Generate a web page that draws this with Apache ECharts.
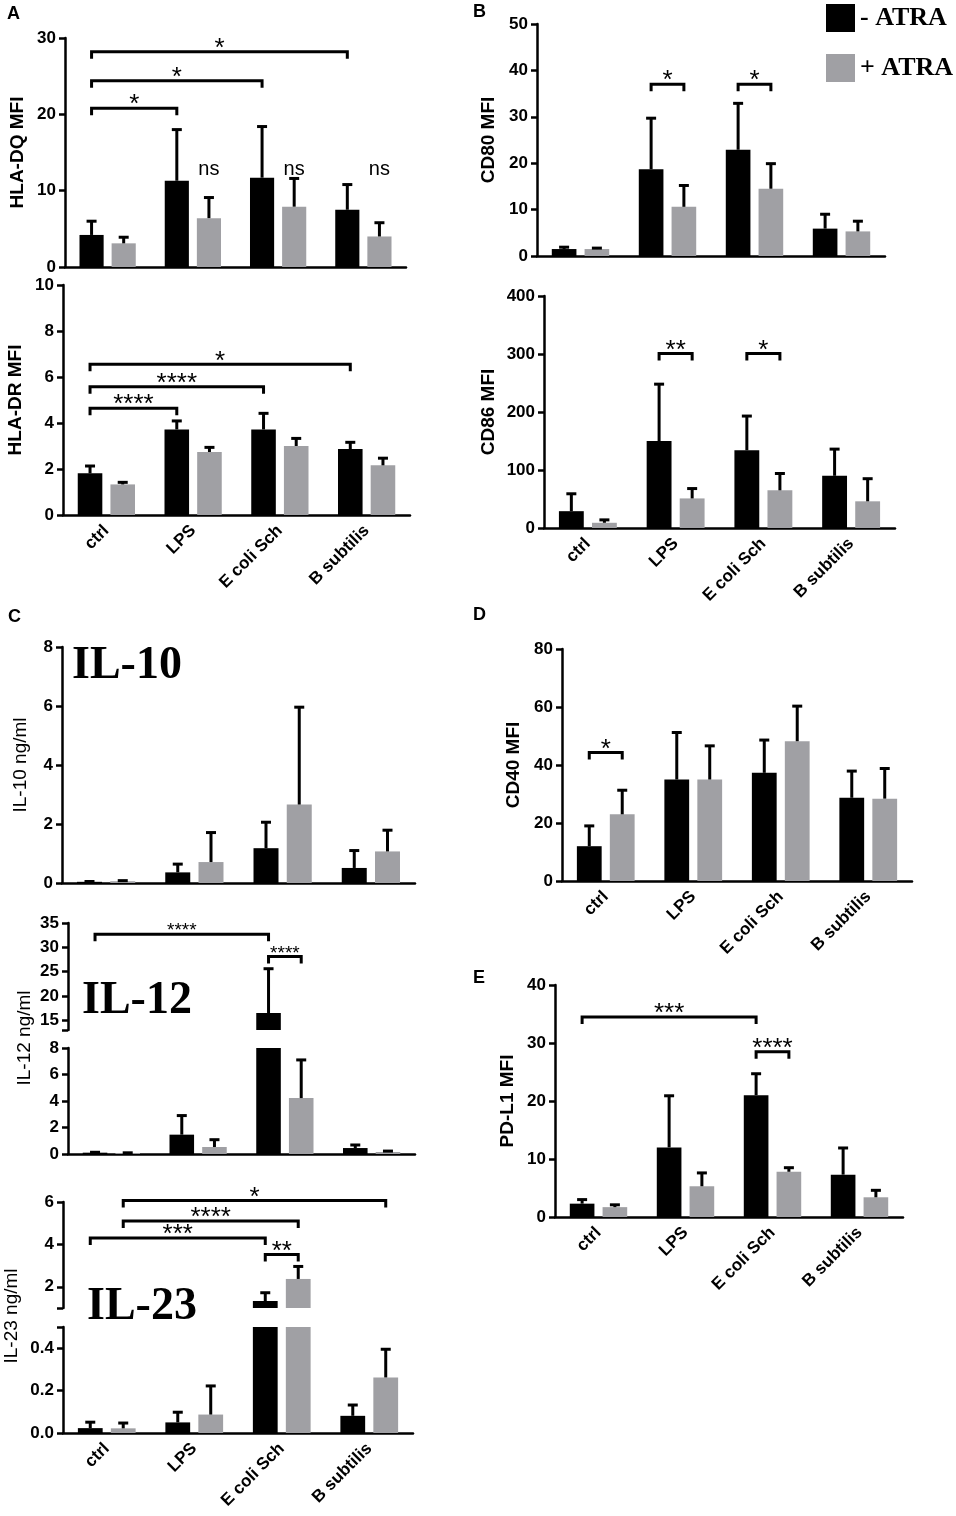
<!DOCTYPE html>
<html>
<head>
<meta charset="UTF-8">
<script src="https://cdn.jsdelivr.net/npm/echarts@6/dist/echarts.min.js"></script>
<style>
  html, body { margin: 0; background: #fff; }
  #main { width: 956px; height: 1516px; }
</style>
</head>
<body>
<div id="main"></div>
<script>
var categories = ['ctrl', 'LPS', 'E coli Sch', 'B subtilis'];
var groupNames = ['- ATRA', '+ ATRA'];

// HLA-DQ MFI
var dqMinus = [4.2, 11.3, 11.7, 7.5];
var dqMinusSd = [1.8, 6.7, 6.7, 3.3];
var dqPlus = [3.1, 6.4, 7.9, 4.0];
var dqPlusSd = [0.8, 2.7, 3.7, 1.8];
var dqBrackets = [[0, 20.8, 1, 0, 0], [0, 24.4, 2, 0, 0], [0, 28.2, 3, 0, 0]];
var dqStars = ['*', '*', '*'];
var dqNotes = [[1, 12.8, 1], [2, 12.8, 1], [3, 12.8, 1]];
var dqNoteText = ['ns', 'ns', 'ns'];

// HLA-DR MFI
var drMinus = [1.81, 3.72, 3.72, 2.87];
var drMinusSd = [0.32, 0.37, 0.70, 0.29];
var drPlus = [1.33, 2.74, 3.0, 2.16];
var drPlusSd = [0.09, 0.20, 0.33, 0.31];
var drBrackets = [[0, 4.64, 1, 0, 0], [0, 5.58, 2, 0, 0], [0, 6.55, 3, 0, 0]];
var drStars = ['****', '****', '*'];

// CD80 MFI
var cd80Minus = [1.5, 18.7, 22.9, 5.9];
var cd80MinusSd = [0.4, 11.0, 10.0, 3.1];
var cd80Plus = [1.5, 10.6, 14.5, 5.3];
var cd80PlusSd = [0.2, 4.6, 5.4, 2.2];
var cd80Brackets = [[1, 37, 1, 0, 1], [2, 37, 2, 0, 1]];
var cd80Stars = ['*', '*'];

// CD86 MFI
var cd86Minus = [29, 150, 134, 90];
var cd86MinusSd = [30, 98, 59, 46];
var cd86Plus = [9, 51, 65, 46];
var cd86PlusSd = [5, 17, 29, 39];
var cd86Brackets = [[1, 301, 1, 0, 1], [2, 301, 2, 0, 1]];
var cd86Stars = ['**', '*'];

// IL-10 ng/ml
var il10Minus = [0.04, 0.36, 1.18, 0.51];
var il10MinusSd = [0.01, 0.28, 0.88, 0.59];
var il10Plus = [0.06, 0.71, 2.66, 1.07];
var il10PlusSd = [0.02, 1.0, 3.3, 0.72];

// IL-12 ng/ml (broken axis)
var il12Minus = [0.1, 1.46, 16.5, 0.45];
var il12MinusSd = [0.03, 1.44, 9.1, 0.23];
var il12Plus = [0.07, 0.53, 4.22, 0.15];
var il12PlusSd = [0.02, 0.55, 2.88, 0.07];
var il12Brackets = [[0, 32.7, 2, 0, 0], [2, 28.1, 2, 0, 1]];
var il12Stars = ['****', '****'];

// IL-23 ng/ml (broken axis)
var il23Minus = [0.023, 0.05, 1.33, 0.081];
var il23MinusSd = [0.028, 0.048, 0.39, 0.051];
var il23Plus = [0.022, 0.087, 2.37, 0.262];
var il23PlusSd = [0.025, 0.135, 0.59, 0.133];
var il23Brackets = [[0, 4.3, 2, 0, 0], [0, 5.1, 2, 1, 1], [0, 6.07, 3, 1, 1], [2, 3.52, 2, 0, 1]];
var il23Stars = ['***', '****', '*', '**'];

// CD40 MFI
var cd40Minus = [12.0, 35.0, 37.3, 28.7];
var cd40MinusSd = [7.0, 16.2, 11.3, 9.2];
var cd40Plus = [23.0, 35.0, 48.2, 28.4];
var cd40PlusSd = [8.3, 11.6, 12.1, 10.4];
var cd40Brackets = [[0, 44.3, 0, 0, 1]];
var cd40Stars = ['*'];

// PD-L1 MFI
var pdMinus = [2.3, 12.0, 21.0, 7.3];
var pdMinusSd = [0.7, 8.9, 3.7, 4.6];
var pdPlus = [1.7, 5.3, 7.8, 3.4];
var pdPlusSd = [0.4, 2.3, 0.7, 1.2];
var pdBrackets = [[0, 34.5, 2, 0, 0], [2, 28.5, 2, 0, 1]];
var pdStars = ['***', '****'];

var SANS = '"Liberation Sans", Arial, sans-serif';
var SERIF = '"Liberation Serif", "Times New Roman", serif';
var CAT_GAP = 0.34, BAR_GAP = 0.33;
var colors = ['#000000', '#a0a0a4'];

function barOffset(band, side) {
    var w = band * (1 - CAT_GAP) / (2 + BAR_GAP);
    return (side === 0 ? -1 : 1) * w * (1 + BAR_GAP) / 2;
}

function errorRows(means, sds, side) {
    return means.map(function (m, i) { return [i, m, m + sds[i], side]; });
}

var panels = [
    { grid: { left: 65, top: 38, width: 341, height: 229 }, minus: dqMinus, minusSd: dqMinusSd, plus: dqPlus, plusSd: dqPlusSd,
      y: { min: 0, max: 30, interval: 10 }, name: 'HLA-DQ MFI', nameGap: 38, xAxis: 'ticks',
      brackets: dqBrackets, stars: dqStars, starSize: 26, notes: dqNotes, noteText: dqNoteText },
    { grid: { left: 63, top: 285, width: 347, height: 230 }, minus: drMinus, minusSd: drMinusSd, plus: drPlus, plusSd: drPlusSd,
      y: { min: 0, max: 10, interval: 2 }, name: 'HLA-DR MFI', nameGap: 38, xAxis: 'labels',
      brackets: drBrackets, stars: drStars, starSize: 26 },
    { grid: { left: 537, top: 24, width: 348, height: 232 }, minus: cd80Minus, minusSd: cd80MinusSd, plus: cd80Plus, plusSd: cd80PlusSd,
      y: { min: 0, max: 50, interval: 10 }, name: 'CD80 MFI', nameGap: 39, xAxis: 'ticks',
      brackets: cd80Brackets, stars: cd80Stars, starSize: 26 },
    { grid: { left: 544, top: 296, width: 351, height: 232 }, minus: cd86Minus, minusSd: cd86MinusSd, plus: cd86Plus, plusSd: cd86PlusSd,
      y: { min: 0, max: 400, interval: 100 }, name: 'CD86 MFI', nameGap: 46, xAxis: 'labels',
      brackets: cd86Brackets, stars: cd86Stars, starSize: 26 },
    { grid: { left: 62, top: 647, width: 353, height: 236 }, minus: il10Minus, minusSd: il10MinusSd, plus: il10Plus, plusSd: il10PlusSd,
      y: { min: 0, max: 8, interval: 2 }, name: 'IL-10 ng/ml', nameGap: 32, nameWeight: 'normal', xAxis: 'ticks' },
    { grid: { left: 68, top: 923, width: 347, height: 107 }, minus: il12Minus, minusSd: il12MinusSd, plus: il12Plus, plusSd: il12PlusSd,
      y: { min: 13, max: 35, labels: [15, 20, 25, 30, 35], ticks: [13, 15, 20, 25, 30, 35] }, xAxis: 'none',
      brackets: il12Brackets, stars: il12Stars, starSize: 19 },
    { grid: { left: 68, top: 1048, width: 347, height: 106 }, minus: il12Minus, minusSd: il12MinusSd, plus: il12Plus, plusSd: il12PlusSd,
      y: { min: 0, max: 8, interval: 2 }, xAxis: 'ticks' },
    { grid: { left: 63, top: 1202, width: 350, height: 106 }, minus: il23Minus, minusSd: il23MinusSd, plus: il23Plus, plusSd: il23PlusSd,
      y: { min: 1, max: 6, labels: [2, 4, 6], ticks: [1, 2, 4, 6] }, xAxis: 'none',
      brackets: il23Brackets, stars: il23Stars, starSize: 26 },
    { grid: { left: 63, top: 1327, width: 350, height: 106 }, minus: il23Minus, minusSd: il23MinusSd, plus: il23Plus, plusSd: il23PlusSd,
      y: { min: 0, max: 0.5, labels: [0, 0.2, 0.4], ticks: [0, 0.2, 0.4, 0.5], fixed: 1 }, xAxis: 'labels' },
    { grid: { left: 562, top: 649, width: 350, height: 232 }, minus: cd40Minus, minusSd: cd40MinusSd, plus: cd40Plus, plusSd: cd40PlusSd,
      y: { min: 0, max: 80, interval: 20 }, name: 'CD40 MFI', nameGap: 39, xAxis: 'labels',
      brackets: cd40Brackets, stars: cd40Stars, starSize: 26 },
    { grid: { left: 555, top: 985, width: 348, height: 232 }, minus: pdMinus, minusSd: pdMinusSd, plus: pdPlus, plusSd: pdPlusSd,
      y: { min: 0, max: 40, interval: 10 }, name: 'PD-L1 MFI', nameGap: 38, xAxis: 'labels',
      brackets: pdBrackets, stars: pdStars, starSize: 26 }
];

var option = {
    backgroundColor: '#fff',
    animation: false,
    legend: {
        left: 826, top: 4, orient: 'vertical', padding: 0,
        itemWidth: 29, itemHeight: 28, itemGap: 22, icon: 'rect', selectedMode: false,
        data: groupNames,
        textStyle: { fontFamily: SERIF, fontWeight: 'bold', fontSize: 26, color: '#000' }
    },
    grid: [], xAxis: [], yAxis: [], series: [],
    graphic: []
};

panels.forEach(function (p, g) {
    option.grid.push(p.grid);
    option.xAxis.push({
        type: 'category', gridIndex: g, data: categories, boundaryGap: true,
        show: p.xAxis !== 'none',
        axisLine: { lineStyle: { color: '#000', width: 2.5 } },
        axisTick: { alignWithLabel: true, interval: 0, length: 6, lineStyle: { color: '#000', width: 2.5 } },
        axisLabel: {
            show: p.xAxis === 'labels', interval: 0, rotate: 45, margin: 13,
            fontFamily: SANS, fontWeight: 'bold', fontSize: 17, color: '#000'
        },
        splitLine: { show: false }
    });
    var y = {
        type: 'value', gridIndex: g, min: p.y.min, max: p.y.max,
        axisLine: { show: true, lineStyle: { color: '#000', width: 2.5 } },
        axisTick: { show: true, length: 6, lineStyle: { color: '#000', width: 2.5 } },
        axisLabel: {
            margin: 9, fontFamily: SANS, fontWeight: 'bold', fontSize: 17, color: '#000',
            formatter: p.y.fixed ? function (v) { return v.toFixed(p.y.fixed); } : null
        },
        splitLine: { show: false }
    };
    if (p.y.interval) y.interval = p.y.interval;
    if (p.y.labels) {
        y.axisLabel.customValues = p.y.labels;
        y.axisTick.customValues = p.y.ticks;
    }
    if (p.name) {
        y.name = p.name;
        y.nameLocation = 'middle';
        y.nameGap = p.nameGap;
        y.nameTextStyle = { fontFamily: SANS, fontWeight: p.nameWeight || 'bold', fontSize: 19, color: '#000' };
    }
    option.yAxis.push(y);

    [p.minus, p.plus].forEach(function (vals, side) {
        option.series.push({
            type: 'bar', name: groupNames[side], xAxisIndex: g, yAxisIndex: g,
            data: vals, clip: true, barCategoryGap: '34%', barGap: '33%',
            itemStyle: { color: colors[side] }
        });
    });

    option.series.push({
        type: 'custom', xAxisIndex: g, yAxisIndex: g, clip: true, z: 5,
        encode: { x: 0, y: [1, 2] },
        data: errorRows(p.minus, p.minusSd, 0).concat(errorRows(p.plus, p.plusSd, 1)),
        renderItem: function (params, api) {
            var band = api.size([1, 0])[0];
            var off = barOffset(band, api.value(3));
            var p0 = api.coord([api.value(0), api.value(1)]);
            var p1 = api.coord([api.value(0), api.value(2)]);
            var x = p0[0] + off;
            return {
                type: 'group', children: [
                    { type: 'line', shape: { x1: x, y1: p0[1], x2: x, y2: p1[1] }, style: { stroke: '#000', lineWidth: 3 } },
                    { type: 'line', shape: { x1: x - 5, y1: p1[1], x2: x + 5, y2: p1[1] }, style: { stroke: '#000', lineWidth: 3 } }
                ]
            };
        }
    });

    if (p.brackets) {
        option.series.push({
            type: 'custom', xAxisIndex: g, yAxisIndex: g, clip: false, z: 6,
            encode: { x: [0, 2], y: 1 },
            data: p.brackets,
            renderItem: function (params, api) {
                var band = api.size([1, 0])[0];
                var a = api.coord([api.value(0), api.value(1)]);
                var b = api.coord([api.value(2), api.value(1)]);
                var xa = a[0] + barOffset(band, api.value(3));
                var xb = b[0] + barOffset(band, api.value(4));
                var yy = a[1];
                return {
                    type: 'group', children: [
                        { type: 'polyline', shape: { points: [[xa, yy + 7], [xa, yy], [xb, yy], [xb, yy + 7]] },
                          style: { stroke: '#000', lineWidth: 3, fill: 'none' } },
                        { type: 'text', style: { text: p.stars[params.dataIndex], x: (xa + xb) / 2, y: yy - 3,
                          align: 'center', verticalAlign: 'middle', fontFamily: SANS, fontSize: p.starSize, fill: '#000' } }
                    ]
                };
            }
        });
    }

    if (p.notes) {
        option.series.push({
            type: 'custom', xAxisIndex: g, yAxisIndex: g, clip: false, z: 6,
            encode: { x: 0, y: 1 },
            data: p.notes,
            renderItem: function (params, api) {
                var band = api.size([1, 0])[0];
                var c = api.coord([api.value(0), api.value(1)]);
                return {
                    type: 'text', style: { text: p.noteText[params.dataIndex], x: c[0] + barOffset(band, api.value(2)), y: c[1],
                      align: 'center', verticalAlign: 'middle', fontFamily: SANS, fontSize: 20, fill: '#000' }
                };
            }
        });
    }
});

// panel letters, big cytokine titles, names of the broken y axes
var letters = [['A', 7, 5], ['B', 473, 3], ['C', 8, 608], ['D', 473, 606], ['E', 473, 969]];
letters.forEach(function (l) {
    option.graphic.push({ type: 'text', x: l[1], y: l[2],
        style: { text: l[0], fontFamily: SANS, fontWeight: 'bold', fontSize: 18, fill: '#000', verticalAlign: 'top' } });
});
var titles = [['IL-10', 72, 666], ['IL-12', 82, 1001], ['IL-23', 87, 1307]];
titles.forEach(function (t) {
    option.graphic.push({ type: 'text', x: t[1], y: t[2], z: 10,
        style: { text: t[0], fontFamily: SERIF, fontWeight: 'bold', fontSize: 46, fill: '#000', verticalAlign: 'middle' } });
});
var brokenNames = [['IL-12 ng/ml', 25, 1038], ['IL-23 ng/ml', 12, 1316]];
brokenNames.forEach(function (t) {
    option.graphic.push({ type: 'text', x: t[1], y: t[2], rotation: Math.PI / 2,
        style: { text: t[0], fontFamily: SANS, fontSize: 19, fill: '#000', align: 'center', verticalAlign: 'middle' } });
});

var chart = echarts.init(document.getElementById('main'));
chart.setOption(option);
</script>
</body>
</html>
